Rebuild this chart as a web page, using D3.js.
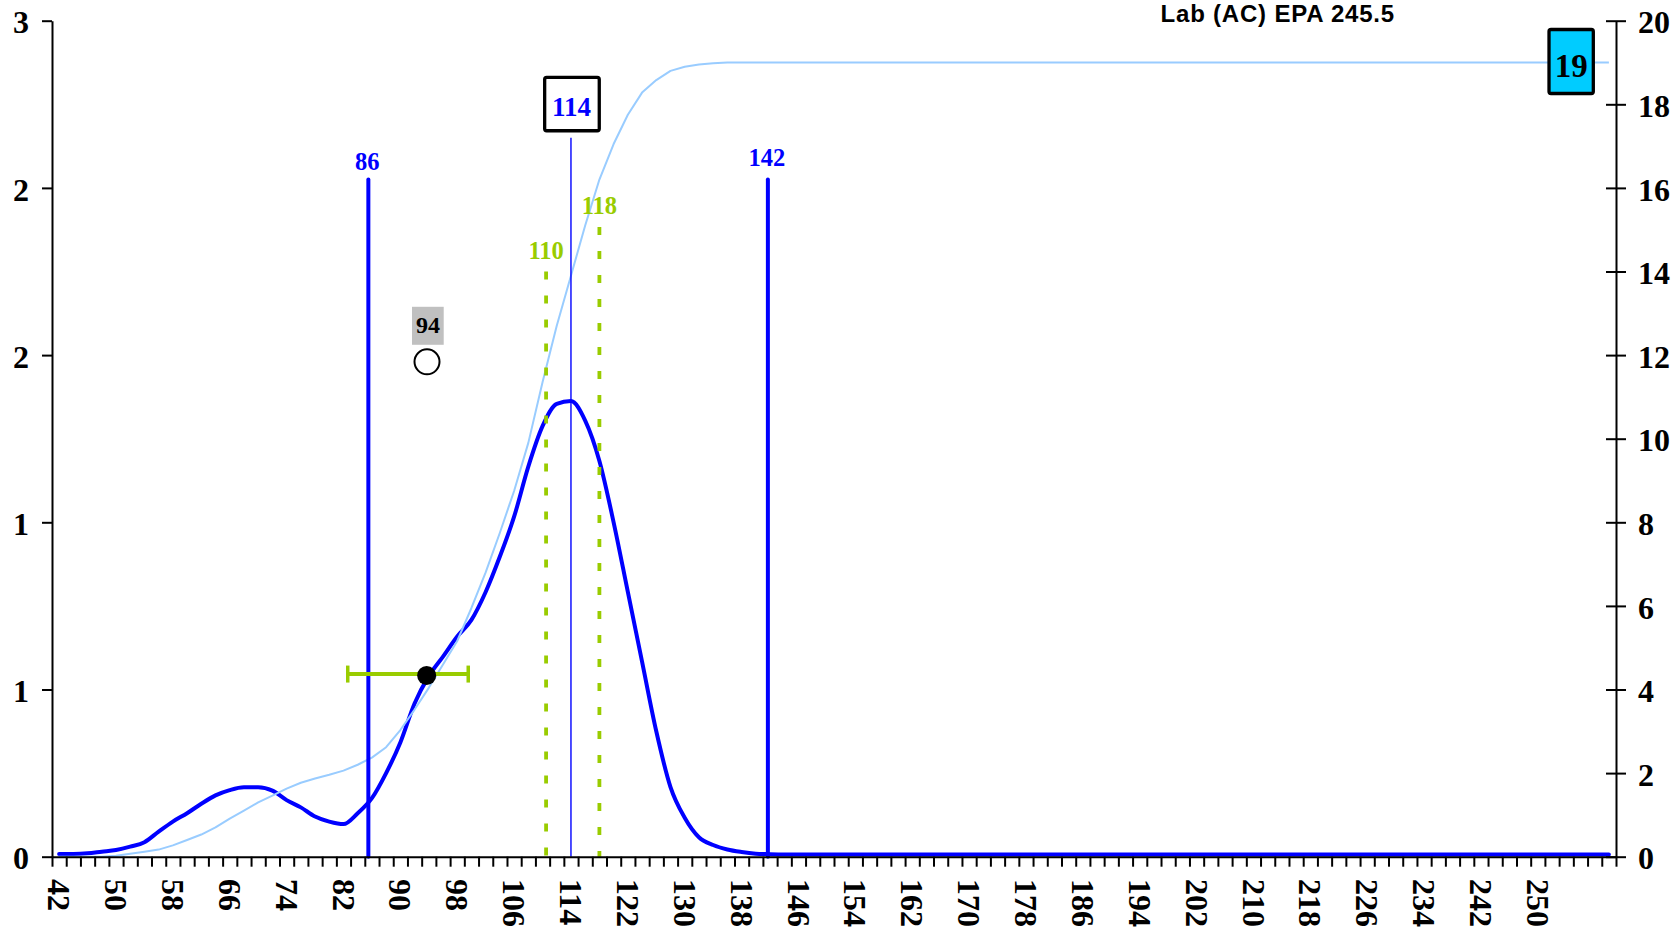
<!DOCTYPE html>
<html><head><meta charset="utf-8">
<script src="https://cdn.jsdelivr.net/npm/d3@7"></script>
<style>body{margin:0;background:#fff}svg{display:block}</style>
</head><body>
<svg id="chart" width="1678" height="934"></svg>
<script>
// ---------------- data ----------------
const title = "Lab (AC) EPA 245.5";
const categories = [42,44,46,48,50,52,54,56,58,60,62,64,66,68,70,72,74,76,78,80,
  82,84,86,88,90,92,94,96,98,100,102,104,106,108,110,112,114,116,118,120,
  122,124,126,128,130,132,134,136,138,140,142,144,146,148,150,152,154,156,158,160,
  162,164,166,168,170,172,174,176,178,180,182,184,186,188,190,192,194,196,198,200,
  202,204,206,208,210,212,214,216,218,220,222,224,226,228,230,232,234,236,238,240,
  242,244,246,248,250,252,254,256,258,260];
const distribution = [0.010,0.010,0.012,0.018,0.024,0.036,0.052,0.090,0.126,0.156,
  0.190,0.220,0.239,0.249,0.249,0.237,0.203,0.177,0.144,0.126,
  0.117,0.156,0.210,0.300,0.410,0.550,0.648,0.718,0.790,0.850,
  0.950,1.077,1.220,1.400,1.545,1.625,1.635,1.565,1.420,1.200,
  0.950,0.700,0.450,0.250,0.140,0.070,0.042,0.026,0.017,0.011,
  0.009,0.008,0.008,0.008,0.008,0.008,0.008,0.008,0.008,0.008,
  0.008,0.008,0.008,0.008,0.008,0.008,0.008,0.008,0.008,0.008,
  0.008,0.008,0.008,0.008,0.008,0.008,0.008,0.008,0.008,0.008,
  0.008,0.008,0.008,0.008,0.008,0.008,0.008,0.008,0.008,0.008,
  0.008,0.008,0.008,0.008,0.008,0.008,0.008,0.008,0.008,0.008,
  0.008,0.008,0.008,0.008,0.008,0.008,0.008,0.008,0.008,0.008];
const cumulative = [0,0,0,0,0.02,0.07,0.12,0.17,0.27,0.40,
  0.53,0.70,0.91,1.10,1.30,1.46,1.63,1.77,1.87,1.96,
  2.06,2.20,2.37,2.62,3.03,3.52,4.04,4.60,5.16,5.95,
  6.80,7.75,8.75,9.90,11.35,12.70,13.90,15.10,16.20,17.05,
  17.75,18.28,18.58,18.80,18.90,18.95,18.98,19,19,19,
  19,19,19,19,19,19,19,19,19,19,
  19,19,19,19,19,19,19,19,19,19,
  19,19,19,19,19,19,19,19,19,19,
  19,19,19,19,19,19,19,19,19,19,
  19,19,19,19,19,19,19,19,19,19,
  19,19,19,19,19,19,19,19,19,19];
const xTickLabels = [42,50,58,66,74,82,90,98,106,114,122,130,138,146,154,162,170,178,186,194,202,210,218,226,234,242,250];
const leftTicks = [0,0.6,1.2,1.8,2.4,3];
const rightTicks = [0,2,4,6,8,10,12,14,16,18,20];
const solidMarkers = [{label:"86", at:85.5, top:2.43}, {label:"142", at:141.7, top:2.43}];
const modeMarker = {label:"114", at:114, top:2.58};
const dottedMarkers = [{label:"110", at:110.5, top:2.10}, {label:"118", at:118, top:2.26}];
const meanMarker = {label:"94", at:93.75, value:1.776};
const medianPoint = {at:93.7, value:0.65, low:82.6, high:99.55};
const totalLabel = {label:"19", at:254.7, value:19};

// ---------------- layout ----------------
const L = 52, R = 1616, T = 20.7, B = 856.7;
const BLUE = "#0000FF", LIGHT = "#99CCFF", GREEN = "#99CC00";
const SERIF = "'Liberation Serif','Times New Roman',serif";
const SANS = "'Liberation Sans',Arial,sans-serif";
const labelGap = {"86": 10, "142": 14};

const svg = d3.select("#chart");
const x = d3.scaleBand().domain(categories).range([L, R]).padding(0);
const xv = d3.scaleLinear()
  .domain([categories[0] - 1, categories[categories.length - 1] + 1]).range([L, R]);
const cx = c => x(c) + x.bandwidth() / 2;
const yL = d3.scaleLinear().domain([0, 3]).range([B, T]);
const yR = d3.scaleLinear().domain([0, 20]).range([B, T]);

// main distribution line (left axis)
svg.append("path").datum(distribution)
  .attr("d", d3.line().curve(d3.curveMonotoneX).x((d, i) => cx(categories[i])).y(d => yL(d)))
  .attr("fill", "none").attr("stroke", BLUE).attr("stroke-width", 4)
  .attr("stroke-linejoin", "round").attr("stroke-linecap", "round");

// cumulative line (right axis)
svg.append("path").datum(cumulative)
  .attr("d", d3.line().x((d, i) => cx(categories[i])).y(d => yR(d)))
  .attr("fill", "none").attr("stroke", LIGHT).attr("stroke-width", 2)
  .attr("stroke-linejoin", "round");

// solid markers
solidMarkers.forEach(m => {
  svg.append("line").attr("x1", xv(m.at)).attr("x2", xv(m.at))
    .attr("y1", yL(m.top)).attr("y2", B)
    .attr("stroke", BLUE).attr("stroke-width", 4).attr("stroke-linecap", "round");
  svg.append("text").attr("x", xv(m.at) - 1).attr("y", yL(m.top) - labelGap[m.label])
    .attr("text-anchor", "middle").attr("fill", BLUE)
    .style("font", `bold 24.5px ${SERIF}`).text(m.label);
});

// dotted markers
dottedMarkers.forEach(m => {
  svg.append("line").attr("x1", xv(m.at)).attr("x2", xv(m.at))
    .attr("y1", yL(m.top)).attr("y2", B)
    .attr("stroke", GREEN).attr("stroke-width", 3.8).attr("stroke-dasharray", "8,16");
  svg.append("text").attr("x", xv(m.at)).attr("y", yL(m.top) - 12.5)
    .attr("text-anchor", "middle").attr("fill", GREEN)
    .style("font", `bold 24.5px ${SERIF}`).text(m.label);
});

// mode marker with boxed label
{
  const mx = xv(modeMarker.at), top = yL(modeMarker.top);
  svg.append("line").attr("x1", mx).attr("x2", mx).attr("y1", top).attr("y2", B)
    .attr("stroke", BLUE).attr("stroke-width", 1.4);
  svg.append("rect").attr("x", mx - 27.3 + 1).attr("y", top - 60.3)
    .attr("width", 54.6).attr("height", 53.3).attr("rx", 2)
    .attr("fill", "#fff").attr("stroke", "#000").attr("stroke-width", 3.3);
  svg.append("text").attr("x", mx + 0.5).attr("y", top - 22)
    .attr("text-anchor", "middle").attr("fill", BLUE)
    .style("font", `bold 27px ${SERIF}`).text(modeMarker.label);
}

// median error bar and dot
{
  const yy = yL(medianPoint.value);
  svg.append("line").attr("x1", xv(medianPoint.low)).attr("x2", xv(medianPoint.high))
    .attr("y1", yy - 1.5).attr("y2", yy - 1.5).attr("stroke", GREEN).attr("stroke-width", 4);
  [medianPoint.low, medianPoint.high].forEach(v => {
    svg.append("line").attr("x1", xv(v)).attr("x2", xv(v))
      .attr("y1", yy - 10).attr("y2", yy + 7).attr("stroke", GREEN).attr("stroke-width", 3.5);
  });
  svg.append("circle").attr("cx", xv(medianPoint.at)).attr("cy", yy).attr("r", 9.5).attr("fill", "#000");
}

// mean marker: open circle with grey label
{
  const mx = xv(meanMarker.at), my = yL(meanMarker.value);
  svg.append("circle").attr("cx", mx).attr("cy", my).attr("r", 12.5)
    .attr("fill", "none").attr("stroke", "#000").attr("stroke-width", 2);
  svg.append("rect").attr("x", mx - 15).attr("y", my - 55).attr("width", 31.7).attr("height", 38)
    .attr("fill", "#C0C0C0");
  svg.append("text").attr("x", mx + 1).attr("y", my - 28.4).attr("text-anchor", "middle")
    .attr("fill", "#000").style("font", `bold 24px ${SERIF}`).text(meanMarker.label);
}

// total label box
{
  const bx = xv(totalLabel.at), by = yR(totalLabel.value) - 1;
  svg.append("rect").attr("x", bx - 22.2).attr("y", by - 32).attr("width", 44.3).attr("height", 64)
    .attr("rx", 2).attr("fill", "#00CCFF").attr("stroke", "#000").attr("stroke-width", 3.3);
  svg.append("text").attr("x", bx).attr("y", by + 15).attr("text-anchor", "middle")
    .attr("fill", "#000").style("font", `bold 33px ${SERIF}`).text(totalLabel.label);
}

// ---------------- axes ----------------
function styleAxis(g) {
  g.select(".domain").attr("stroke", "#000").attr("stroke-width", 2);
  g.selectAll(".tick line").attr("stroke", "#000").attr("stroke-width", 2);
  g.selectAll(".tick text").attr("fill", "#000").style("font", `bold 32px ${SERIF}`);
}

const gL = svg.append("g").attr("transform", `translate(${L},0)`)
  .call(d3.axisLeft(yL).tickValues(leftTicks).tickFormat(d3.format(".0f"))
    .tickSize(10).tickSizeOuter(0).tickPadding(13));
styleAxis(gL);
gL.selectAll(".tick text").attr("dy", "0.38em");

const gR = svg.append("g").attr("transform", `translate(${R},0)`)
  .call(d3.axisRight(yR).tickValues(rightTicks).tickFormat(d3.format("d"))
    .tickSize(10).tickSizeOuter(0).tickPadding(12));
styleAxis(gR);
gR.selectAll(".tick line").attr("x1", -10);
gR.selectAll(".tick text").attr("dy", "0.38em");

const boundaries = categories.map(c => c - 1).concat([categories[categories.length - 1] + 1]);
const gX = svg.append("g").attr("transform", `translate(0,${B})`)
  .call(d3.axisBottom(xv).tickValues(boundaries).tickFormat("").tickSize(10).tickSizeOuter(0));
styleAxis(gX);

svg.append("g").selectAll("text").data(xTickLabels).join("text")
  .attr("transform", d => `translate(${cx(d)},879) rotate(90)`)
  .attr("dy", "0.34em").attr("text-anchor", "start").attr("fill", "#000")
  .style("font", `bold 32px ${SERIF}`).text(d => d);

// title
svg.append("text").attr("x", 1395).attr("y", 21.5).attr("text-anchor", "end")
  .attr("fill", "#000").style("font", `bold 24px ${SANS}`).style("letter-spacing", "0.8px")
  .text(title);
</script>
</body></html>
